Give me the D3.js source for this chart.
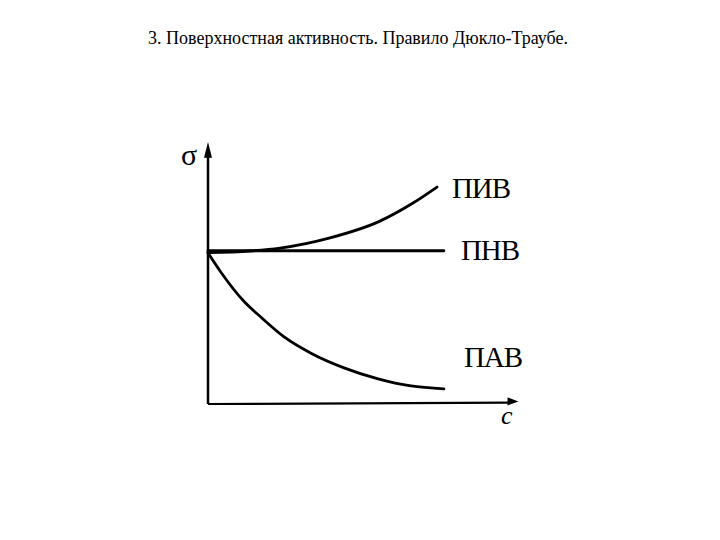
<!DOCTYPE html>
<html><head><meta charset="utf-8">
<script src="https://cdn.jsdelivr.net/npm/d3@7"></script>
<style>body{margin:0;background:#fff} text{font-family:'Times New Roman','Liberation Serif',serif}</style>
</head><body>
<svg id="c" width="720" height="540"></svg>
<script>
const title = "3. Поверхностная активность. Правило Дюкло-Траубе.";
const seriesNames = ["ПИВ", "ПНВ", "ПАВ"];
const pivC = [0, 1.35, 2.31, 3.91, 5.51, 6.57, 7.34];
const pivS = [5.78, 5.84, 5.95, 6.34, 6.98, 7.67, 8.28];
const pnvC = [0, 7.56];
const pnvS = [5.85, 5.85];
const pavC = [0, 0.42, 1.15, 1.70, 2.44, 3.30, 4.36, 5.45, 6.51, 7.56];
const pavS = [5.77, 5.02, 3.92, 3.31, 2.56, 1.94, 1.38, 0.96, 0.69, 0.58];
const axisLabels = ["σ", "c"];

const svg = d3.select("#c");
const x = d3.scaleLinear().domain([0, 10]).range([208, 520]);
const y = d3.scaleLinear().domain([0, 10]).range([404, 142]);

svg.append("text").attr("x", 358).attr("y", 44).attr("text-anchor", "middle")
  .attr("font-size", 18).text(title);

// axes
svg.append("line").attr("x1", x(0)).attr("y1", y(0)).attr("x2", x(0)).attr("y2", y(9.6))
  .attr("stroke", "#000").attr("stroke-width", 2.5);
svg.append("path").attr("d", `M${x(0)},${y(10)} L${x(0)-4},${y(9.4)} L${x(0)+4},${y(9.4)} Z`).attr("fill", "#000");
svg.append("line").attr("x1", x(0)).attr("y1", y(0)).attr("x2", x(9.7)).attr("y2", y(0.05))
  .attr("stroke", "#000").attr("stroke-width", 2.2);
svg.append("path").attr("d", `M${x(9.95)},${y(0.1)} L${x(9.6)},${y(0.1)-4} L${x(9.6)},${y(0.1)+4} Z`).attr("fill", "#000");

const line = d3.line().curve(d3.curveMonotoneX);
const series = [[pivC, pivS], [pnvC, pnvS], [pavC, pavS]];
series.forEach(([cs, ss]) => {
  svg.append("path").attr("d", line(cs.map((c, i) => [x(c), y(ss[i])])))
    .attr("fill", "none").attr("stroke", "#000").attr("stroke-width", 2.8).attr("stroke-linecap", "round");
});

svg.append("text").attr("x", 181).attr("y", 165).attr("font-size", 30).text(axisLabels[0]);
svg.append("text").attr("x", 501).attr("y", 424).attr("font-style", "italic").attr("font-size", 26).text(axisLabels[1]);

const labelPos = [[452, 198], [461, 260], [464, 367]];
seriesNames.forEach((n, i) => {
  svg.append("text").attr("x", labelPos[i][0]).attr("y", labelPos[i][1])
    .attr("font-size", 29).attr("textLength", 59).text(n);
});
</script>
</body></html>
